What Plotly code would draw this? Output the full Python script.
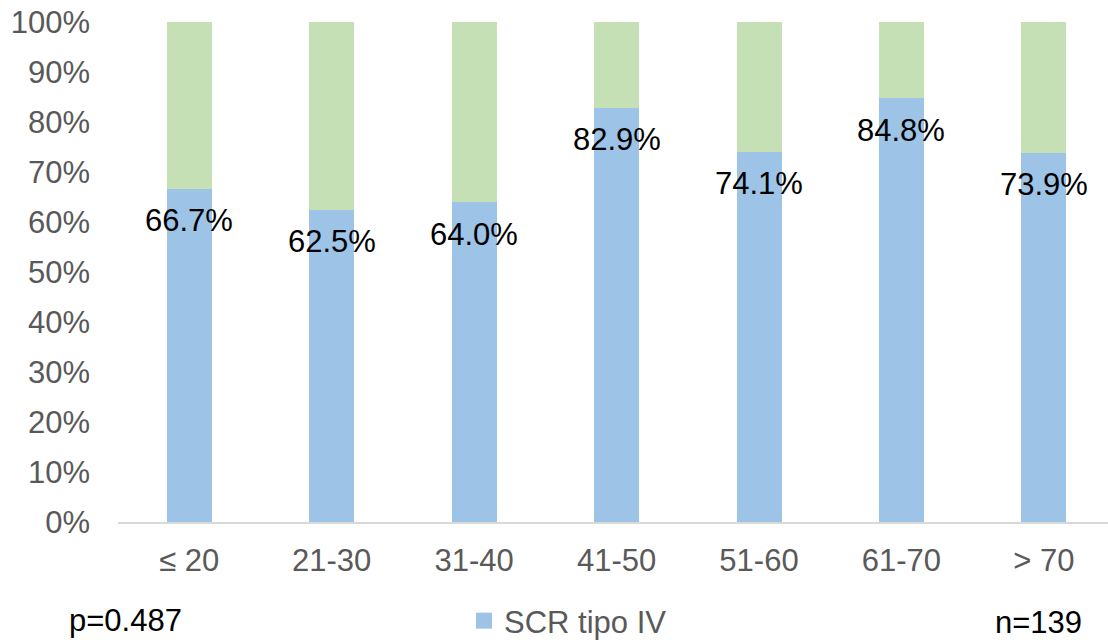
import plotly.graph_objects as go

categories = ["≤ 20", "21-30", "31-40", "41-50", "51-60", "61-70", "> 70"]
scr_iv = [66.7, 62.5, 64.0, 82.9, 74.1, 84.8, 73.9]
other = [round(100 - v, 1) for v in scr_iv]
ytick_vals = [0, 10, 20, 30, 40, 50, 60, 70, 80, 90, 100]
ytick_text = [f"{v}%" for v in ytick_vals]

FONT = "Liberation Sans, Arial, sans-serif"
W, H = 1108, 640
L, T, B = 118, 22, 118
BLUE, GREEN = "#9DC3E6", "#C5E0B4"

fig = go.Figure()
fig.add_trace(go.Bar(x=categories, y=scr_iv, name="SCR tipo IV", showlegend=False,
                     marker=dict(color=BLUE, line=dict(width=0)),
                     width=0.316))
fig.add_trace(go.Bar(x=categories, y=other, name="Otros", showlegend=False,
                     marker=dict(color=GREEN, line=dict(width=0)),
                     width=0.316))
# legend entry (larger square swatch like the reference)
fig.add_trace(go.Scatter(x=[None], y=[None], mode="markers", name="SCR tipo IV",
                         marker=dict(symbol="square", size=16, color=BLUE)))

for c, v in zip(categories, scr_iv):
    fig.add_annotation(x=c, y=v, xref="x", yref="y", text=f"{v:.1f}%",
                       showarrow=False, yanchor="middle", yshift=-32,
                       font=dict(family=FONT, size=31, color="#000000"))

fig.add_annotation(x=(67 - L) / (W - L), y=(522 - 620) / 500, xref="paper", yref="paper",
                   text="p=0.487", showarrow=False, xanchor="left", yanchor="middle",
                   font=dict(family=FONT, size=31, color="#000000"))
fig.add_annotation(x=(993 - L) / (W - L), y=(522 - 622) / 500, xref="paper", yref="paper",
                   text="n=139", showarrow=False, xanchor="left", yanchor="middle",
                   font=dict(family=FONT, size=31, color="#000000"))

fig.update_layout(
    width=W, height=H, barmode="stack", bargap=0,
    margin=dict(l=L, r=0, t=T, b=B, autoexpand=False),
    plot_bgcolor="white", paper_bgcolor="white",
    font=dict(family=FONT, size=31, color="#595959"),
    showlegend=True,
    legend=dict(orientation="h", xref="container", yref="container",
                x=464 / W, xanchor="left", y=1 - 621 / H, yanchor="middle",
                font=dict(family=FONT, size=31, color="#595959"),
                bgcolor="rgba(0,0,0,0)"),
    xaxis=dict(range=[-0.5, 6.45], showgrid=False, showline=True, linecolor="#D9D9D9",
               linewidth=2, ticks="", tickfont=dict(size=31, color="#595959"),
               ticklabelstandoff=10, zeroline=False),
    yaxis=dict(range=[0, 100], tickvals=ytick_vals, ticktext=ytick_text,
               showgrid=False, showline=False, zeroline=False, ticks="",
               tickfont=dict(size=31, color="#595959"), ticklabelstandoff=27),
)

fig.write_html("out.html", config={"displayModeBar": False},
               post_script="document.body.style.margin='0px';")
